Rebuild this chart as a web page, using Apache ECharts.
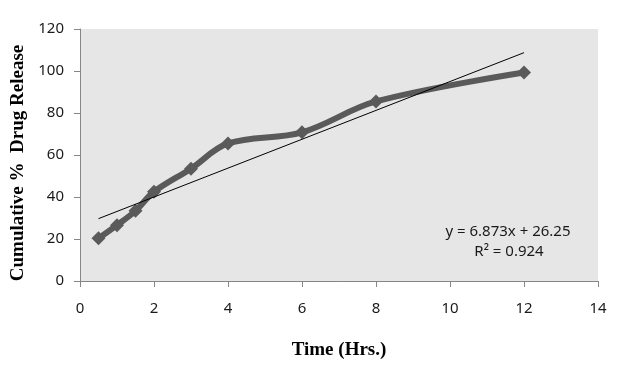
<!DOCTYPE html>
<html>
<head>
<meta charset="utf-8">
<script src="https://cdn.jsdelivr.net/npm/echarts@6/dist/echarts.min.js"></script>
<style>
html,body{margin:0;padding:0;background:#fff;}
#c{width:618px;height:366px;}
</style>
</head>
<body>
<div id="c"></div>
<script>
// Data
var timeHrs = [0.5, 1, 1.5, 2, 3, 4, 6, 8, 12];
var releasePct = [20.3, 26.6, 33.4, 42.5, 53.5, 65.5, 70.8, 85.5, 99.3];
// Linear trendline endpoints (y = 6.873x + 26.25, shown from x=0.5 to x=12)
var trendX = [0.5, 12];
var trendY = [29.69, 108.73];
var equationText = ['y = 6.873x + 26.25', 'R\u00B2 = 0.924'];

var chart = echarts.init(document.getElementById('c'), null, {renderer: 'canvas'});
var tickFont = {fontFamily: 'Noto Sans', fontSize: 15, color: '#1a1a1a'};
var option = {
  animation: false,
  backgroundColor: '#ffffff',
  grid: {left: 80, top: 29, right: 20, bottom: 85, show: true, backgroundColor: '#e6e6e6', borderWidth: 0,
         containLabel: false, outerBoundsMode: 'none'},
  xAxis: {
    type: 'value', min: 0, max: 14, interval: 2,
    name: 'Time (Hrs.)', nameLocation: 'middle', nameGap: 60,
    nameTextStyle: {fontFamily: 'Liberation Serif', fontWeight: 'bold', fontSize: 19, color: '#000'},
    axisLine: {show: true, onZero: false, lineStyle: {color: '#868686', width: 1}},
    axisTick: {show: true, length: 6, lineStyle: {color: '#868686'}},
    axisLabel: Object.assign({margin: 20}, tickFont),
    splitLine: {show: false}
  },
  yAxis: {
    type: 'value', min: 0, max: 120, interval: 20,
    name: 'Cumulative %  Drug Release', nameLocation: 'middle', nameGap: 52, nameRotate: 90,
    nameTextStyle: {fontFamily: 'Liberation Serif', fontWeight: 'bold', fontSize: 19, color: '#000', padding: [0, 16, 0, 0]},
    axisLine: {show: true, lineStyle: {color: '#868686', width: 1}},
    axisTick: {show: true, length: 6, lineStyle: {color: '#868686'}},
    axisLabel: Object.assign({margin: 16}, tickFont),
    splitLine: {show: false}
  },
  series: [
    {
      type: 'line',
      data: trendX.map(function (x, i) { return [x, trendY[i]]; }),
      symbol: 'none',
      lineStyle: {color: '#000', width: 1},
      z: 3
    },
    {
      type: 'line',
      data: timeHrs.map(function (x, i) { return [x, releasePct[i]]; }),
      smooth: 0.35,
      symbol: 'diamond',
      symbolSize: 14,
      itemStyle: {color: '#5a5a5a'},
      lineStyle: {color: '#5a5a5a', width: 6},
      z: 2
    }
  ],
  graphic: [
    {type: 'text', x: 508, y: 232, style: {text: equationText[0], align: 'center', verticalAlign: 'middle', fontFamily: 'Noto Sans', fontSize: 15, fill: '#1a1a1a'}},
    {type: 'text', x: 509, y: 252, style: {text: equationText[1], align: 'center', verticalAlign: 'middle', fontFamily: 'Noto Sans', fontSize: 15, fill: '#1a1a1a'}}
  ]
};
chart.setOption(option);
</script>
</body>
</html>
